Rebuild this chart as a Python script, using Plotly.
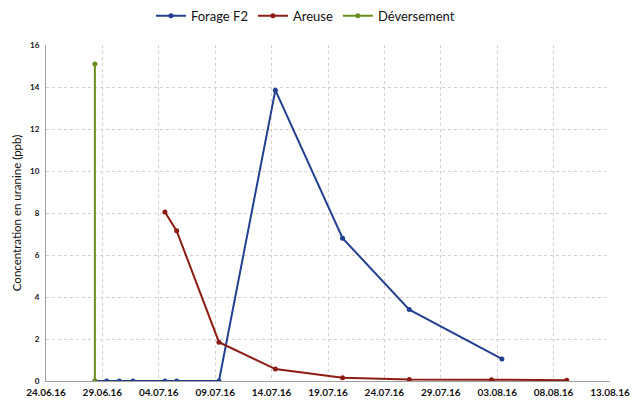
import plotly.graph_objects as go

# Data
forage_dates = ["2016-06-28 08:00", "2016-06-29 09:00", "2016-06-30 12:00", "2016-07-01 17:00",
                "2016-07-04 13:00", "2016-07-05 14:00", "2016-07-09 08:00", "2016-07-14 08:00",
                "2016-07-20 07:00", "2016-07-26 05:00", "2016-08-03 10:00"]
forage_vals = [0, 0, 0, 0, 0, 0, 0, 13.85, 6.8, 3.4, 1.05]

areuse_dates = ["2016-07-04 13:00", "2016-07-05 14:00", "2016-07-09 08:00", "2016-07-14 08:00",
                "2016-07-20 07:00", "2016-07-26 05:00", "2016-08-02 12:00", "2016-08-09 04:00"]
areuse_vals = [8.05, 7.15, 1.85, 0.57, 0.15, 0.07, 0.06, 0.04]

deversement_dates = ["2016-06-28 08:00", "2016-06-28 08:00"]
deversement_vals = [0, 15.1]

x_range = ["2016-06-24", "2016-08-13"]
y_ticks = [0, 2, 4, 6, 8, 10, 12, 14, 16]

blue = "#22408f"
red = "#8b1d14"
green = "#6a8f1f"

fig = go.Figure()
fig.add_trace(go.Scatter(x=forage_dates, y=forage_vals, name="Forage F2", mode="lines+markers",
                         line=dict(color=blue, width=2), marker=dict(color=blue, size=5)))
fig.add_trace(go.Scatter(x=areuse_dates, y=areuse_vals, name="Areuse", mode="lines+markers",
                         line=dict(color=red, width=2), marker=dict(color=red, size=5)))
fig.add_trace(go.Scatter(x=deversement_dates, y=deversement_vals, name="Déversement", mode="lines+markers",
                         line=dict(color=green, width=2), marker=dict(color=green, size=5)))

fig.update_layout(
    width=638, height=401,
    margin=dict(l=46, r=28, t=45, b=20),
    paper_bgcolor="white", plot_bgcolor="white",
    font=dict(family="Lato, Open Sans, sans-serif", color="#222"),
    showlegend=True,
    legend=dict(orientation="h", x=0.46, xanchor="center", y=0.998, yref="container", yanchor="top",
                font=dict(size=13, color="#111"), itemwidth=30, bgcolor="rgba(0,0,0,0)"),
)
fig.update_xaxes(
    type="date", range=x_range, tick0="2016-06-24", dtick=5 * 86400000,
    tickformat="%d.%m.%y", tickfont=dict(size=10, color="#111", weight="bold"),
    showgrid=True, gridcolor="#d9cdcd", griddash="3px,3px", gridwidth=1,
    showline=True, linecolor="#a0a0a0", linewidth=1, zeroline=False, ticks="",
    automargin=False, ticklabelstandoff=2,
)
fig.update_yaxes(
    range=[0, 16], tickvals=y_ticks, tickfont=dict(size=8, color="#111", weight="bold"),
    showgrid=True, gridcolor="#d9cdcd", griddash="3px,3px", gridwidth=1,
    showline=True, linecolor="#a0a0a0", linewidth=1, zeroline=False, ticks="",
    automargin=False, ticklabelstandoff=4,
    title=dict(text="Concentration en uranine (ppb)", font=dict(size=11.5, color="#111"), standoff=6),
)

fig.write_html("out.html", config={"displayModeBar": False},
               post_script="document.body.style.margin='0';")
